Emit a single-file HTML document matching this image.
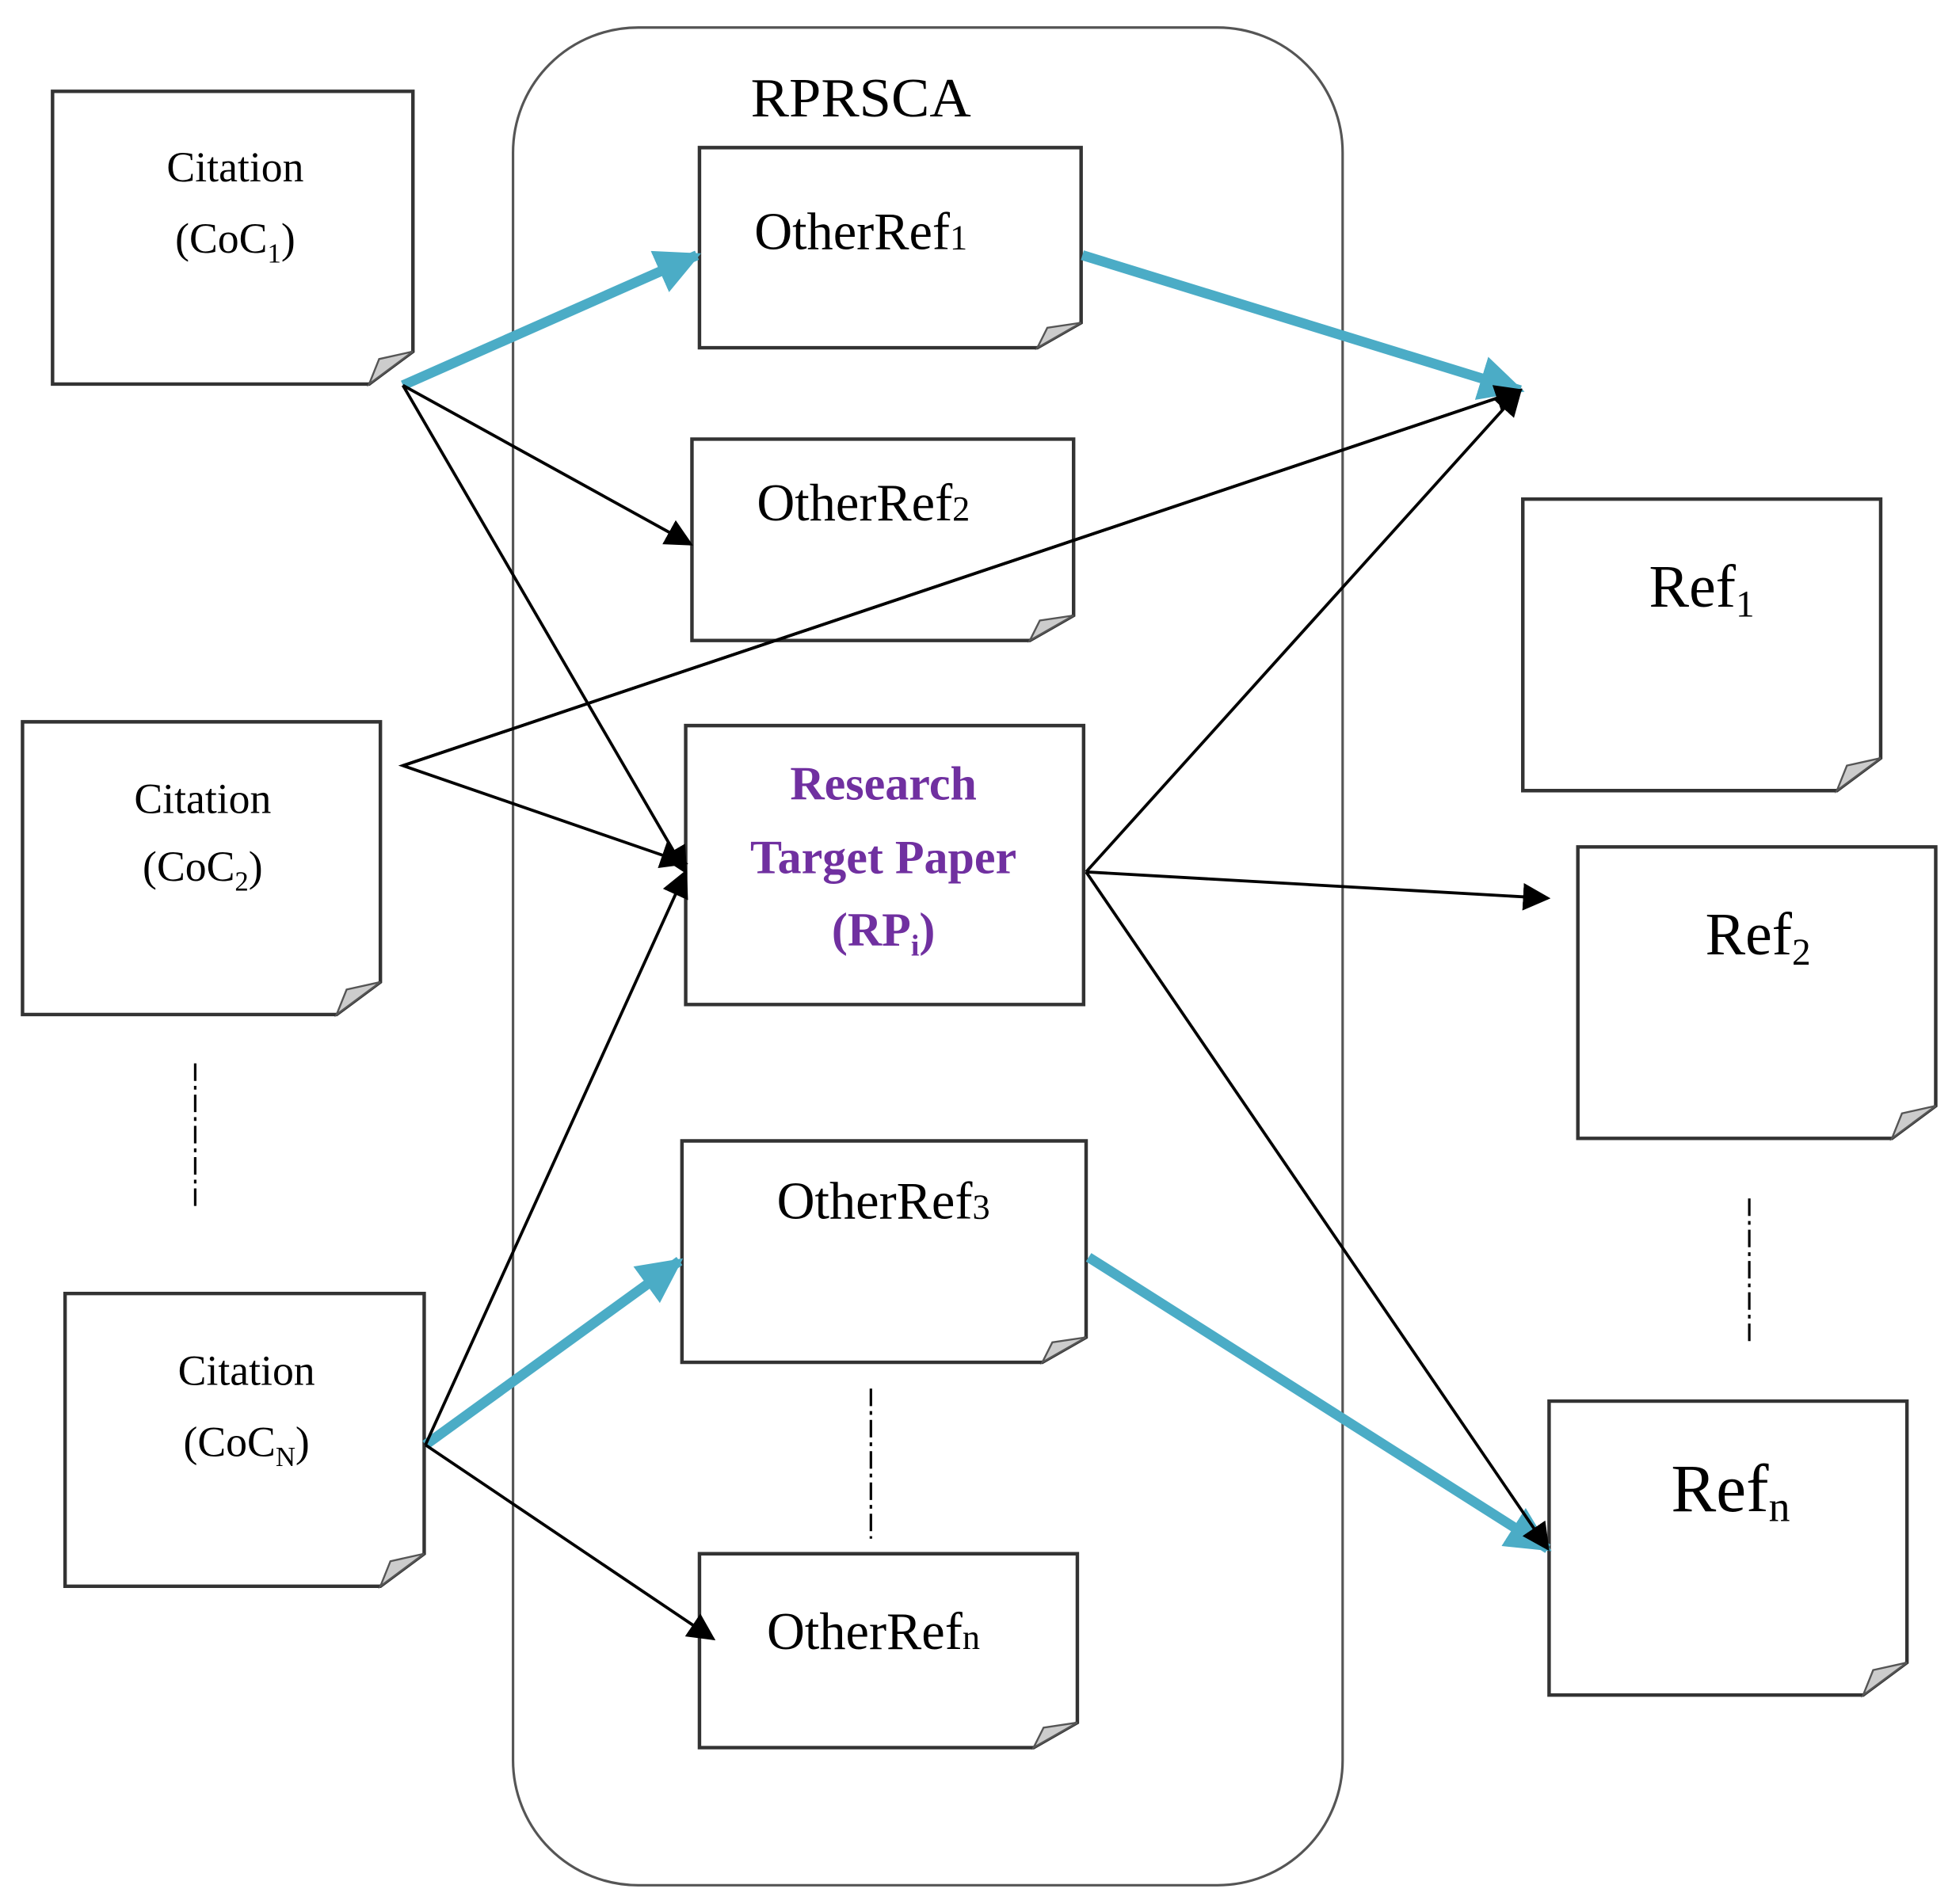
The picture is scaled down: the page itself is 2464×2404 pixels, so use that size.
<!DOCTYPE html>
<html><head><meta charset="utf-8"><style>
html,body{margin:0;padding:0;background:#fff;}
svg{display:block;}
text{font-family:"Liberation Serif",serif;fill:#000;}
</style></head><body>
<svg width="2464" height="2404" viewBox="0 0 1560 1522" preserveAspectRatio="none" xmlns="http://www.w3.org/2000/svg">
<defs>
<marker id="bk2" viewBox="0 0 10 10" refX="9" refY="5" markerWidth="22" markerHeight="22" markerUnits="userSpaceOnUse" orient="auto"><path d="M0,0 L10,5 L0,10 z" fill="#000"/></marker>
<marker id="bl" viewBox="0 0 10 10" refX="9" refY="5" markerWidth="4.5" markerHeight="4.5" orient="auto"><path d="M0,0 L10,5 L0,10 z" fill="#4bacc6"/></marker>
</defs>
<rect x="410" y="22" width="663" height="1485" rx="100" ry="100" fill="none" stroke="#555" stroke-width="2"/>
<text x="688" y="93" font-size="44" text-anchor="middle" textLength="176" lengthAdjust="spacingAndGlyphs">RPRSCA</text>

<g stroke="#333" stroke-width="2.8" fill="#fff">
<path d="M42,73 H330 V281 L295,307 H42 Z"/>
<path d="M18,577 H304 V785 L269,811 H18 Z"/>
<path d="M52,1034 H339 V1242 L304,1268 H52 Z"/>
<path d="M559,118 H864 V258 L829,278 H559 Z"/>
<path d="M553,351 H858 V492 L823,512 H553 Z"/>
<path d="M548,580 H866 V803 H548 Z"/>
<path d="M545,912 H868 V1069 L833,1089 H545 Z"/>
<path d="M559,1242 H861 V1377 L826,1397 H559 Z"/>
<path d="M1217,399 H1503 V606 L1468,632 H1217 Z"/>
<path d="M1261,677 H1547 V884 L1512,910 H1261 Z"/>
<path d="M1238,1120 H1524 V1329 L1489,1355 H1238 Z"/>
</g>
<g fill="#ccc" stroke="#555" stroke-width="1.5">
<path d="M330,281 L295,307 L303,287 Z"/>
<path d="M304,785 L269,811 L277,791 Z"/>
<path d="M339,1242 L304,1268 L312,1248 Z"/>
<path d="M864,258 L829,278 L837,262 Z"/>
<path d="M858,492 L823,512 L831,496 Z"/>
<path d="M868,1069 L833,1089 L841,1073 Z"/>
<path d="M861,1377 L826,1397 L834,1381 Z"/>
<path d="M1503,606 L1468,632 L1476,612 Z"/>
<path d="M1547,884 L1512,910 L1520,890 Z"/>
<path d="M1524,1329 L1489,1355 L1497,1335 Z"/>
</g>

<g stroke="#000" stroke-width="2" stroke-dasharray="14,4,3,4">
<line x1="156" y1="850" x2="156" y2="968"/>
<line x1="696" y1="1110" x2="696" y2="1230"/>
<line x1="1398" y1="958" x2="1398" y2="1076"/>
</g>

<g font-size="34" text-anchor="middle">
<text x="188" y="145">Citation</text>
<text x="188" y="202">(CoC<tspan font-size="22" dy="8">1</tspan><tspan dy="-8">)</tspan></text>
<text x="162" y="650">Citation</text>
<text x="162" y="704">(CoC<tspan font-size="22" dy="8">2</tspan><tspan dy="-8">)</tspan></text>
<text x="197" y="1107">Citation</text>
<text x="197" y="1164">(CoC<tspan font-size="22" dy="8">N</tspan><tspan dy="-8">)</tspan></text>
</g>
<g font-size="42" text-anchor="middle">
<text x="688" y="199">OtherRef<tspan font-size="28">1</tspan></text>
<text x="690" y="416">OtherRef<tspan font-size="28">2</tspan></text>
<text x="706" y="974">OtherRef<tspan font-size="28">3</tspan></text>
<text x="698" y="1318">OtherRef<tspan font-size="28">n</tspan></text>
</g>
<g font-size="48" text-anchor="middle">
<text x="1360" y="485">Ref<tspan font-size="30" dy="8">1</tspan></text>
<text x="1405" y="763">Ref<tspan font-size="30" dy="8">2</tspan></text>
<text x="1383" y="1208" font-size="54">Ref<tspan font-size="34" dy="8">n</tspan></text>
</g>
<g font-size="38" text-anchor="middle" font-weight="bold">
<text x="706" y="639" style="fill:#7030a0">Research</text>
<text x="706" y="698" style="fill:#7030a0">Target Paper</text>
<text x="706" y="756" style="fill:#7030a0">(RP<tspan font-size="24" dy="8">i</tspan><tspan dy="-8">)</tspan></text>
</g>

<g stroke="#4bacc6" stroke-width="8" fill="none">
<line x1="322" y1="308" x2="557" y2="204" marker-end="url(#bl)"/>
<line x1="865" y1="204" x2="1215" y2="312" marker-end="url(#bl)"/>
<line x1="340" y1="1155" x2="543" y2="1008" marker-end="url(#bl)"/>
<line x1="870" y1="1005" x2="1237" y2="1238" marker-end="url(#bl)"/>
</g>
<g stroke="#000" stroke-width="2.4" fill="none">
<line x1="322" y1="308" x2="552" y2="435" marker-end="url(#bk2)"/>
<line x1="322" y1="308" x2="548" y2="697" marker-end="url(#bk2)"/>
<polyline points="1215,312 322,612 548,690" marker-end="url(#bk2)"/>
<line x1="322" y1="612" x2="1215" y2="312" marker-end="url(#bk2)"/>
<line x1="340" y1="1155" x2="548" y2="697" marker-end="url(#bk2)"/>
<line x1="340" y1="1155" x2="570" y2="1310" marker-end="url(#bk2)"/>
<line x1="868" y1="697" x2="1215" y2="312" marker-end="url(#bk2)"/>
<line x1="868" y1="697" x2="1237" y2="718" marker-end="url(#bk2)"/>
<line x1="868" y1="697" x2="1237" y2="1238" marker-end="url(#bk2)"/>
</g>
</svg>
</body></html>
